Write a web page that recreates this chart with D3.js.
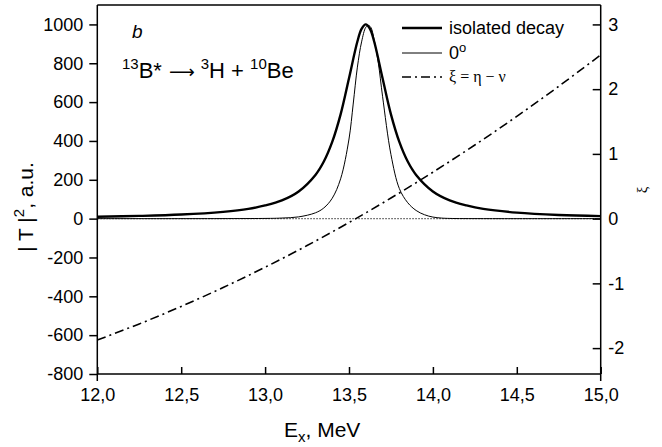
<!DOCTYPE html>
<html lang="en">
<head>
    <meta charset="UTF-8">
    <title>13B* decay</title>
    <script src="https://d3js.org/d3.v7.min.js"></script>
    <style>
        body { margin: 0; background: #fff; }
        svg { display: block; font-family: "Liberation Sans", Arial, sans-serif; }
        .tick text { font-size: 18px; fill: #000; }
        .tick line { stroke: #000; stroke-width: 1.5; }
    </style>
</head>
<body>
<script>
    // isolated decay |T|^2 (a.u.)
    const isoE = [12.0, 12.25, 12.5, 12.75, 12.9, 13.0, 13.1, 13.2, 13.3, 13.35, 13.4, 13.45, 13.5, 13.55, 13.575, 13.6,
                  13.625, 13.65, 13.7, 13.75, 13.8, 13.85, 13.9, 14.0, 14.1, 14.2, 14.3, 14.5, 14.75, 15.0];
    const isoT = [10, 14, 21, 35, 50, 68, 94, 140, 225, 294, 395, 537, 723, 912, 977, 1000,
                  977, 912, 723, 537, 395, 294, 225, 140, 94, 68, 50, 31, 19, 13];

    // 0 degree |T|^2
    const zeroE = [12.0, 13.0, 13.1, 13.2, 13.3, 13.35, 13.4, 13.45, 13.5, 13.525, 13.55, 13.575, 13.6, 13.615, 13.63,
                   13.65, 13.675, 13.7, 13.75, 13.8, 13.85, 13.9, 13.95, 14.0, 14.05, 14.1, 14.3, 15.0];
    const zeroT = [0, 1, 3, 9, 30, 55, 105, 205, 410, 590, 780, 910, 985, 995, 985,
                   920, 800, 630, 330, 155, 82, 42, 20, 8, 3, 1, 0, 0];

    // xi = eta - nu (right axis)
    const xiE = [12.0, 12.25, 12.5, 12.75, 13.0, 13.25, 13.5, 13.75, 14.0, 14.25, 14.5, 14.75, 15.0];
    const xiV = [-1.875, -1.626, -1.356, -1.064, -0.751, -0.416, -0.060, 0.318, 0.717, 1.138, 1.580, 2.044, 2.529];

    const leftTicks = [-800, -600, -400, -200, 0, 200, 400, 600, 800, 1000];
    const rightTicks = [-2, -1, 0, 1, 2, 3];
    const xTicks = [12.0, 12.5, 13.0, 13.5, 14.0, 14.5, 15.0];

    const W = 662, H = 447;
    const L = 97.3, R = 600.7, T = 5, B = 374;

    const svg = d3.select("body").append("svg").attr("width", W).attr("height", H);

    const x = d3.scaleLinear().domain([12, 15]).range([L, R]);
    const yL = d3.scaleLinear().domain([-800, 1100]).range([B, T]);
    const yR = d3.scaleLinear().domain([-2.4, 3.3]).range([B, T]);

    svg.append("clipPath").attr("id", "clip")
        .append("rect").attr("x", L).attr("y", T).attr("width", R - L).attr("height", B - T);

    const plot = svg.append("g").attr("clip-path", "url(#clip)");

    // zero line
    plot.append("line")
        .attr("x1", L).attr("x2", R).attr("y1", yL(0)).attr("y2", yL(0))
        .attr("stroke", "#555").attr("stroke-width", 1.3).attr("stroke-dasharray", "1.5,1.5");

    const lineL = d3.line().x(d => x(d[0])).y(d => yL(d[1])).curve(d3.curveCatmullRom);
    const lineR = d3.line().x(d => x(d[0])).y(d => yR(d[1])).curve(d3.curveCatmullRom);

    plot.append("path").datum(d3.zip(zeroE, zeroT))
        .attr("d", lineL).attr("fill", "none").attr("stroke", "#000").attr("stroke-width", 1);

    plot.append("path").datum(d3.zip(isoE, isoT))
        .attr("d", lineL).attr("fill", "none").attr("stroke", "#000").attr("stroke-width", 2.4);

    plot.append("path").datum(d3.zip(xiE, xiV))
        .attr("d", lineR).attr("fill", "none").attr("stroke", "#000").attr("stroke-width", 1.6)
        .attr("stroke-dasharray", "9,4,2,4");

    // axes
    const fmtX = d => d3.format(".1f")(d).replace(".", ",");

    const gx = svg.append("g").attr("transform", `translate(0,${B})`);
    gx.call(d3.axisBottom(x).tickValues(d3.range(12, 15.01, 0.25)).tickSize(-4).tickFormat(""));
    gx.call(d3.axisBottom(x).tickValues(xTicks).tickSize(-7).tickPadding(14).tickFormat(fmtX));
    gx.selectAll(".domain").remove();

    const gl = svg.append("g").attr("transform", `translate(${L},0)`);
    gl.call(d3.axisLeft(yL).tickValues(d3.range(-800, 1001, 100)).tickSize(5).tickFormat(""));
    gl.call(d3.axisLeft(yL).tickValues(leftTicks).tickSize(8).tickPadding(6).tickFormat(d => String(d)));
    gl.selectAll(".domain").remove();

    const gr = svg.append("g").attr("transform", `translate(${R},0)`);
    gr.call(d3.axisRight(yR).tickValues(d3.range(-2, 3.01, 0.5)).tickSize(-5).tickFormat(""));
    gr.call(d3.axisRight(yR).tickValues(rightTicks).tickSize(-8).tickPadding(7.5).tickFormat(d => String(d)));
    gr.selectAll(".domain").remove();

    // frame
    const frame = svg.append("g").attr("stroke", "#000").attr("stroke-width", 1.5);
    frame.append("line").attr("x1", L).attr("x2", R).attr("y1", T).attr("y2", T);
    frame.append("line").attr("x1", L).attr("x2", R).attr("y1", B).attr("y2", B);
    frame.append("line").attr("x1", L).attr("x2", L).attr("y1", T).attr("y2", B + 7);
    frame.append("line").attr("x1", R).attr("x2", R).attr("y1", T).attr("y2", B + 7);

    // axis titles
    const xt = svg.append("text").attr("x", 284).attr("y", 437).attr("font-size", 21);
    xt.append("tspan").text("E");
    xt.append("tspan").attr("font-size", 15).attr("dy", 5).text("x");
    xt.append("tspan").attr("dy", -5).text(", MeV");

    const yt = svg.append("text").attr("transform", "translate(33,207) rotate(-90)")
        .attr("text-anchor", "middle").attr("font-size", 21);
    yt.append("tspan").text("| T |");
    yt.append("tspan").attr("font-size", 15).attr("dy", -9).text("2");
    yt.append("tspan").attr("dy", 9).text(", a.u.");

    svg.append("text").attr("transform", "translate(647,190) rotate(-90)")
        .attr("text-anchor", "middle").attr("font-size", 15)
        .attr("font-family", "'Liberation Serif', serif").text("ξ");

    // annotations
    svg.append("text").attr("x", 132).attr("y", 38).attr("font-size", 19)
        .attr("font-style", "italic").text("b");

    const rx = svg.append("text").attr("x", 122).attr("y", 78).attr("font-size", 22);
    rx.append("tspan").attr("font-size", 15).attr("dy", -9).text("13");
    rx.append("tspan").attr("dy", 9).text("B*");
    rx.append("tspan").attr("dx", 7).attr("font-family", "'DejaVu Sans', sans-serif").attr("font-size", 18).text("\u27F6");
    rx.append("tspan").attr("dx", 6).attr("font-size", 15).attr("dy", -9).text("3");
    rx.append("tspan").attr("dy", 9).text("H + ");
    rx.append("tspan").attr("font-size", 15).attr("dy", -9).text("10");
    rx.append("tspan").attr("dy", 9).text("Be");

    // legend
    const legend = svg.append("g");
    const items = [
        {w: 2.4, dash: null, y: 28},
        {w: 1, dash: null, y: 53},
        {w: 1.6, dash: "9,4,2,4", y: 77}
    ];
    items.forEach(it => {
        legend.append("line").attr("x1", 402).attr("x2", 442).attr("y1", it.y).attr("y2", it.y)
            .attr("stroke", "#000").attr("stroke-width", it.w).attr("stroke-dasharray", it.dash);
    });
    legend.append("text").attr("x", 449).attr("y", 34).attr("font-size", 18).text("isolated decay");
    const t0 = legend.append("text").attr("x", 449).attr("y", 59).attr("font-size", 18);
    t0.append("tspan").text("0");
    t0.append("tspan").attr("font-size", 13).attr("dy", -7).text("o");
    legend.append("text").attr("x", 449).attr("y", 82).attr("font-size", 16)
        .attr("font-family", "'Liberation Serif', serif").text("ξ = η − ν");
</script>
</body>
</html>
